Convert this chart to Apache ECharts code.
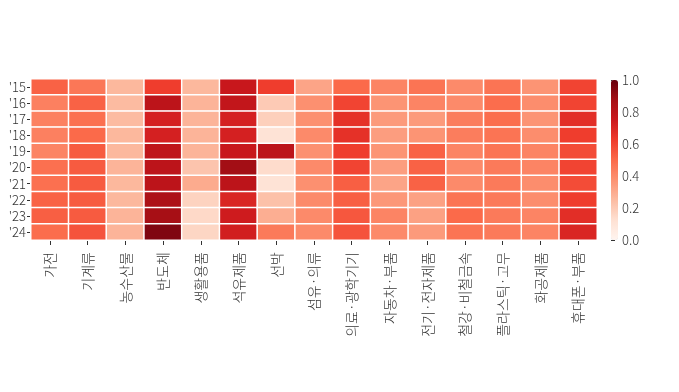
<!DOCTYPE html>
<html><head><meta charset="utf-8">
<script src="https://cdn.jsdelivr.net/npm/echarts@6/dist/echarts.min.js"></script>
<style>html,body{margin:0;padding:0;background:#fff}#c{width:679px;height:392px}</style>
</head><body><div id="c"></div>
<script>
const categories = ['가전','기계류','농수산물','반도체','생활용품','석유제품','선박','섬유·의류','의료·광학기기','자동차·부품','전기·전자제품','철강·비철금속','플라스틱·고무','화공제품','휴대폰·부품'];
const years = ["'15","'16","'17","'18","'19","'20","'21","'22","'23","'24"];
// one array per category, values by year '15..'24
const v_gajeon   = [0.52,0.43,0.43,0.43,0.42,0.48,0.48,0.52,0.53,0.49];
const v_gigye    = [0.46,0.52,0.48,0.50,0.54,0.54,0.54,0.54,0.54,0.56];
const v_nongsu   = [0.26,0.25,0.25,0.26,0.26,0.27,0.26,0.26,0.27,0.27];
const v_bando    = [0.62,0.80,0.72,0.72,0.79,0.80,0.80,0.85,0.87,0.95];
const v_saenghwal= [0.26,0.27,0.27,0.27,0.27,0.22,0.30,0.17,0.15,0.16];
const v_seogyu   = [0.76,0.78,0.72,0.72,0.76,0.88,0.80,0.70,0.74,0.73];
const v_seonbak  = [0.62,0.20,0.18,0.11,0.80,0.14,0.11,0.23,0.29,0.45];
const v_seomyu   = [0.32,0.38,0.38,0.40,0.38,0.40,0.38,0.40,0.40,0.40];
const v_uiryo    = [0.50,0.60,0.66,0.66,0.62,0.60,0.53,0.53,0.55,0.56];
const v_jadongcha= [0.42,0.37,0.35,0.34,0.37,0.34,0.32,0.36,0.42,0.40];
const v_jeongi   = [0.47,0.42,0.35,0.37,0.52,0.52,0.52,0.33,0.33,0.35];
const v_cheolgang= [0.40,0.40,0.44,0.44,0.42,0.40,0.40,0.47,0.50,0.47];
const v_plastic  = [0.47,0.49,0.49,0.47,0.47,0.45,0.45,0.45,0.45,0.45];
const v_hwagong  = [0.37,0.39,0.37,0.39,0.42,0.42,0.39,0.39,0.42,0.42];
const v_hyudae   = [0.60,0.60,0.67,0.62,0.58,0.60,0.58,0.62,0.67,0.70];

const seriesByCat = [v_gajeon,v_gigye,v_nongsu,v_bando,v_saenghwal,v_seogyu,v_seonbak,v_seomyu,v_uiryo,v_jadongcha,v_jeongi,v_cheolgang,v_plastic,v_hwagong,v_hyudae];
const data = [];
seriesByCat.forEach((arr, ci) => arr.forEach((v, yi) => data.push([ci, yi, v])));

const FONT = '"Noto Sans CJK KR", "Noto Sans", sans-serif';
const reds = ['#fff5f0','#fee0d2','#fcbba1','#fc9272','#fb6a4a','#ef3b2c','#cb181d','#a50f15','#67000d'];
const chart = echarts.init(document.getElementById('c'), null, {renderer:'canvas'});
chart.setOption({
  animation: false,
  textStyle: {fontFamily: FONT},
  grid: [
    {left: 31, top: 79, width: 566, height: 161},
    {left: 611, top: 80, width: 7, height: 160}
  ],
  xAxis: [
    {type: 'category', data: categories, gridIndex: 0,
     axisLine: {show: false},
     axisTick: {show: true, alignWithLabel: true, length: 5, lineStyle: {color: '#333'}},
     axisLabel: {rotate: 90, color: '#333', fontSize: 14, fontWeight: 300, fontFamily: FONT, margin: 12, interval: 0},
     splitArea: {show: false}},
    {type: 'value', gridIndex: 1, show: false, min: 0, max: 1}
  ],
  yAxis: [
    {type: 'category', data: years, gridIndex: 0, inverse: true,
     axisLine: {show: false},
     axisTick: {show: true, alignWithLabel: true, interval: 0, length: 4, lineStyle: {color: '#333'}},
     axisLabel: {color: '#333', fontSize: 13, fontWeight: 300, fontFamily: FONT, margin: 5, interval: 0, hideOverlap: false}},
    {type: 'value', gridIndex: 1, position: 'right', min: 0, max: 1, interval: 0.2,
     axisLine: {show: false}, splitLine: {show: false},
     axisTick: {show: true, length: 4, lineStyle: {color: '#333'}},
     axisLabel: {color: '#333', fontSize: 13, fontWeight: 300, fontFamily: FONT, margin: 4,
                 formatter: v => v.toFixed(1)}}
  ],
  visualMap: {
    type: 'continuous', min: 0, max: 1, calculable: false, show: true,
    seriesIndex: 0, orient: 'vertical', left: 606, top: 75,
    itemWidth: 7, itemHeight: 160, text: null, showLabel: false, padding: 5,
    inRange: {color: reds}
  },
  series: [{
    type: 'heatmap', data: data, xAxisIndex: 0, yAxisIndex: 0,
    itemStyle: {borderColor: '#fff', borderWidth: 1.5},
    emphasis: {disabled: true}
  }]
});
</script></body></html>
